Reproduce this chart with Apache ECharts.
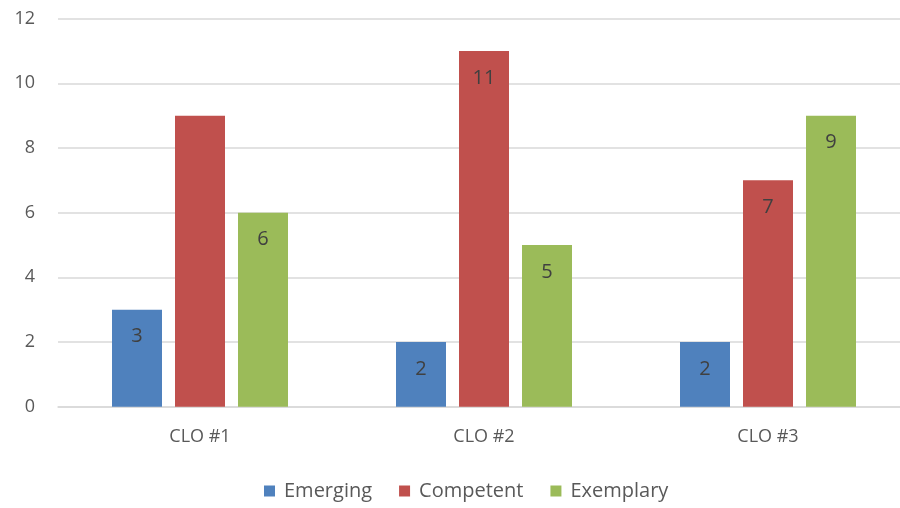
<!DOCTYPE html>
<html>
<head>
<meta charset="utf-8">
<script src="https://cdn.jsdelivr.net/npm/echarts@6/dist/echarts.min.js"></script>
<style>
  html, body { margin: 0; padding: 0; background: #ffffff; }
  #chart { width: 900px; height: 508px; }
</style>
</head>
<body>
<div id="chart"></div>
<script>
// Course learning outcome ratings by performance level
const categories = ['CLO #1', 'CLO #2', 'CLO #3'];
const emerging = [3, 2, 2];
const competent = [9, 11, 7];
const exemplary = [6, 5, 9];
const seriesNames = ['Emerging', 'Competent', 'Exemplary'];
const yTicks = { min: 0, max: 12, interval: 2 };
// Competent value for CLO #1 carries no data label
const competentHiddenLabels = [0];

const FONT = '"Open Sans", "Liberation Sans", sans-serif';
const colors = ['#4f81bd', '#c0504d', '#9bbb59'];

const labelStyle = {
  show: true,
  position: 'insideTop',
  distance: 17,
  color: '#404040',
  fontFamily: FONT,
  fontSize: 20
};

function barSeries(name, values, color, hidden) {
  return {
    name: name,
    type: 'bar',
    data: values.map(function (v, i) {
      return (hidden || []).indexOf(i) >= 0 ? { value: v, label: { show: false } } : v;
    }),
    barWidth: 50,
    barGap: '26%',
    itemStyle: { color: color },
    label: labelStyle
  };
}

const chart = echarts.init(document.getElementById('chart'), null, { renderer: 'canvas' });
chart.setOption({
  animation: false,
  textStyle: { fontFamily: FONT },
  // plot area runs slightly past the right edge of the canvas
  grid: { left: 58, top: 18.7, width: 852, height: 388, outerBoundsMode: 'none', containLabel: false },
  legend: {
    bottom: 2,
    left: 259,
    icon: 'rect',
    itemWidth: 11,
    itemHeight: 11,
    itemGap: 27,
    textStyle: { color: '#595959', fontSize: 20, fontFamily: FONT, padding: [0, 0, 0, 4] },
    data: seriesNames
  },
  xAxis: {
    type: 'category',
    data: categories,
    axisLine: { show: true, lineStyle: { color: '#d9d9d9', width: 1.5 } },
    axisTick: { show: false },
    axisLabel: { color: '#595959', fontSize: 18, fontFamily: FONT, margin: 21 }
  },
  yAxis: {
    type: 'value',
    min: yTicks.min,
    max: yTicks.max,
    interval: yTicks.interval,
    axisLine: { show: false },
    axisTick: { show: false },
    axisLabel: { color: '#595959', fontSize: 18, fontFamily: FONT, margin: 23 },
    splitLine: { lineStyle: { color: '#d9d9d9', width: 1.5 } }
  },
  series: [
    barSeries(seriesNames[0], emerging, colors[0]),
    barSeries(seriesNames[1], competent, colors[1], competentHiddenLabels),
    barSeries(seriesNames[2], exemplary, colors[2])
  ]
});
</script>
</body>
</html>
